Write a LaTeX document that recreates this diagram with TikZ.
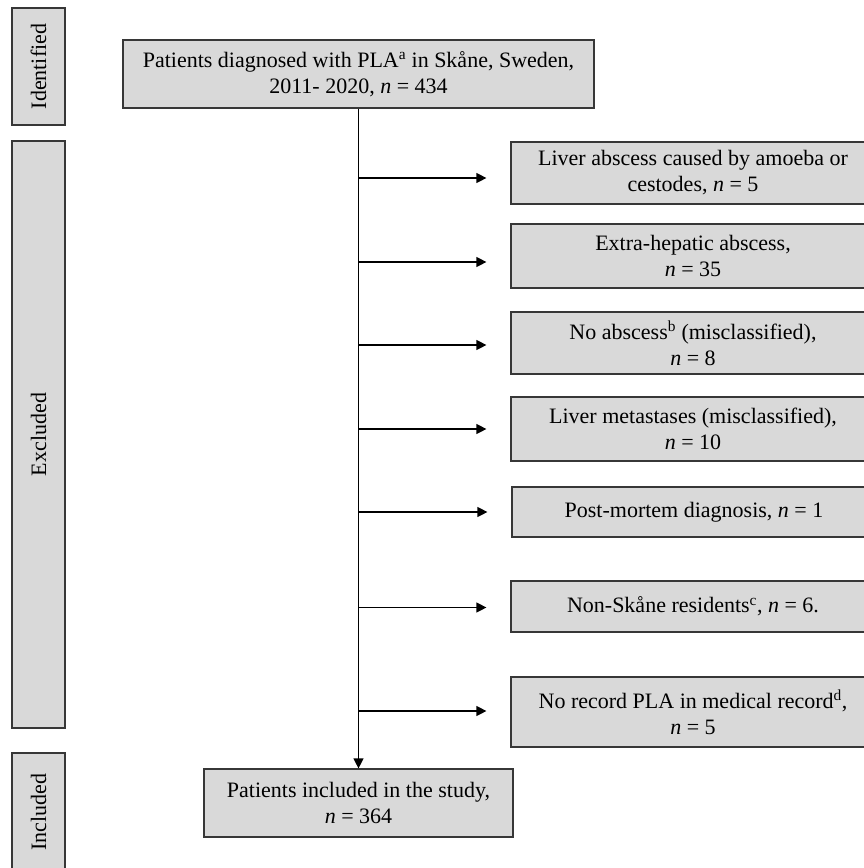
\documentclass[tikz,border=0pt]{standalone}
\usepackage{fontspec}
\setmainfont{Liberation Serif}
\usetikzlibrary{arrows.meta,positioning}
\definecolor{boxgray}{RGB}{217,217,217}
\definecolor{edgegray}{RGB}{55,55,55}

\begin{document}
\begin{tikzpicture}[x=1pt, y=-1pt, every node/.style={font=\fontsize{22}{26}\selectfont}, >={Triangle[length=10pt, width=10pt]}, b/.style={draw=edgegray, fill=boxgray, line width=1.2pt, align=center, inner sep=0pt}, side/.style={b, rotate=90, minimum height=53pt}, ex/.style={b, minimum width=364pt}, ln/.style={black, line width=1.2pt}]
	\useasboundingbox (0,0) rectangle (864,868);
	\node[side, minimum width=117pt] (ident) at (38.5,66.5) {Identified};
	\node[side, minimum width=587pt] (excl) at (38.5,434.5) {Excluded};
	\node[side, minimum width=118pt] (incl) at (38.5,812) {Included};
	\node[b, minimum width=471pt, minimum height=68pt] (found) at (358.5,74) {Patients diagnosed with PLA\textsuperscript{a} in Skåne, Sweden,\\2011- 2020, \textit{n} = 434};
	\node[b, minimum width=309pt, minimum height=68pt] (study) at (358.5,803) {Patients included in the study,\\\textit{n} = 364};
	\node[ex, minimum height=62pt] (e1) at (693,173) {Liver abscess caused by amoeba or\\cestodes, \textit{n} = 5};
	\node[ex, minimum height=64pt] (e2) at (693,256) {Extra-hepatic abscess,\\\textit{n} = 35};
	\node[ex, minimum height=62pt] (e3) at (693,343) {No abscess\textsuperscript{b} (misclassified),\\\textit{n} = 8};
	\node[ex, minimum height=64pt] (e4) at (693,429) {Liver metastases (misclassified),\\\textit{n} = 10};
	\node[ex, minimum height=50pt] (e5) at (694,512) {Post-mortem diagnosis, \textit{n} = 1};
	\node[ex, minimum height=51pt] (e6) at (693,606.5) {Non-Skåne residents\textsuperscript{c}, \textit{n} = 6.};
	\node[ex, minimum height=70pt] (e7) at (693,712) {No record PLA in medical record\textsuperscript{d},\\\textit{n} = 5};
	\draw[ln, ->] (found) -- (study);
	\foreach \e/\d in {e1/-5, e2/-6, e3/-2, e4/0, e5/0, e6/-1, e7/1}
		\draw[ln, ->, shorten >=24pt, transform canvas={yshift=\d pt}] (\e.west -| found.south) -- (\e.west);
\end{tikzpicture}
\end{document}
